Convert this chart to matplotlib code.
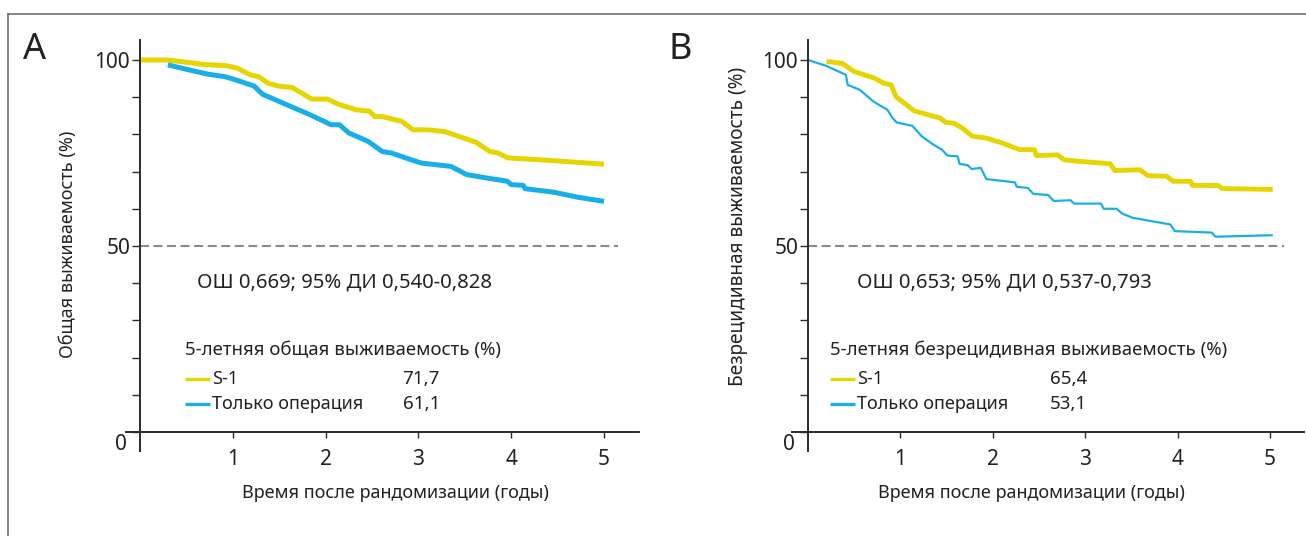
import numpy as np
import matplotlib.pyplot as plt

plt.rcParams['font.family'] = ['Noto Sans', 'DejaVu Sans']
plt.rcParams['font.weight'] = 'medium'

# ---- данные ----
# A: общая выживаемость
os_s1_t = [0.0, 0.13, 0.30, 0.50, 0.69, 0.92, 1.05, 1.19, 1.28, 1.38, 1.49, 1.64, 1.85, 2.02, 2.14,
           2.33, 2.47, 2.53, 2.61, 2.82, 2.94, 3.12, 3.29, 3.62, 3.77, 3.86, 3.96, 4.30, 5.0]
os_s1_v = [100, 100, 100, 99.4, 98.8, 98.5, 97.8, 96.0, 95.5, 93.75, 93.0, 92.6, 89.5, 89.5, 88.1,
           86.6, 86.25, 84.8, 84.8, 83.5, 81.25, 81.2, 80.7, 77.9, 75.4, 75.0, 73.7, 73.2, 72.0]
os_op_t = [0.30, 0.50, 0.73, 0.92, 1.05, 1.23, 1.32, 1.57, 1.83, 2.06, 2.15, 2.25, 2.46, 2.61, 2.71,
           2.86, 3.03, 3.35, 3.52, 3.73, 3.96, 4.0, 4.13, 4.15, 4.45, 4.72, 5.0]
os_op_v = [98.7, 97.5, 96.2, 95.5, 94.5, 93.0, 90.8, 88.1, 85.3, 82.6, 82.6, 80.4, 78.1, 75.4, 75.0,
           73.7, 72.3, 71.4, 69.2, 68.3, 67.4, 66.5, 66.3, 65.4, 64.5, 63.1, 62.0]

# B: безрецидивная выживаемость
dfs_s1_t = [0.20, 0.37, 0.50, 0.72, 0.82, 0.90, 0.95, 1.15, 1.43, 1.49, 1.58, 1.67, 1.78, 1.93, 2.10,
            2.29, 2.45, 2.47, 2.70, 2.77, 2.92, 3.27, 3.32, 3.59, 3.68, 3.88, 3.95, 4.14, 4.16, 4.44,
            4.48, 5.03]
dfs_s1_v = [99.6, 99.1, 96.9, 95.1, 93.75, 93.3, 90.2, 86.3, 84.4, 83.2, 83.0, 81.7, 79.5, 79.0, 77.7,
            75.9, 75.9, 74.3, 74.5, 73.2, 72.8, 72.1, 70.3, 70.5, 68.9, 68.75, 67.4, 67.4, 66.3, 66.25,
            65.45, 65.2]
dfs_op_t = [0.0, 0.20, 0.41, 0.43, 0.56, 0.71, 0.86, 0.91, 0.96, 1.13, 1.23, 1.36, 1.45, 1.51, 1.62,
            1.64, 1.73, 1.77, 1.87, 1.93, 2.24, 2.26, 2.38, 2.44, 2.60, 2.66, 2.84, 2.88, 3.17, 3.20,
            3.34, 3.40, 3.51, 3.92, 3.97, 4.37, 4.41, 5.03]
dfs_op_v = [100, 98.4, 96.0, 93.3, 92.0, 88.8, 86.6, 84.6, 83.2, 82.3, 79.5, 77.2, 75.9, 74.3, 74.1,
            72.1, 71.7, 70.7, 71.0, 68.0, 67.1, 65.9, 65.6, 64.0, 63.7, 62.1, 62.3, 61.4, 61.4, 60.0,
            60.0, 58.75, 57.6, 55.8, 54.0, 53.6, 52.5, 52.9]

year_ticks = [1, 2, 3, 4, 5]
hr_text = ['ОШ 0,669; 95% ДИ 0,540-0,828', 'ОШ 0,653; 95% ДИ 0,537-0,793']
legend_titles = ['5-летняя общая выживаемость (%)', '5-летняя безрецидивная выживаемость (%)']
group_names = ['S-1', 'Только операция']
five_year = [['71,7', '61,1'], ['65,4', '53,1']]
ylabels = ['Общая выживаемость (%)', 'Безрецидивная выживаемость (%)']
xlabel = 'Время после рандомизации (годы)'

YELLOW = '#e6d500'
BLUE = '#1aaee8'
TXT = '#222222'
AXC = '#2b2b2b'

W, H = 1306, 536
fig = plt.figure(figsize=(W / 100, H / 100), dpi=100)


def make_axes(x0, y0, xu, yu, left, right, top, bottom):
    # x0, y0 - пиксели начала координат; xu, yu - пикселей на единицу
    ax = fig.add_axes([left / W, (H - bottom) / H, (right - left) / W, (bottom - top) / H])
    ax.set_xlim((left - x0) / xu, (right - x0) / xu)
    ax.set_ylim((y0 - bottom) / yu, (y0 - top) / yu)
    ax.patch.set_alpha(0)
    for s in ['top', 'right']:
        ax.spines[s].set_visible(False)
    for s in ['left', 'bottom']:
        ax.spines[s].set_position(('data', 0))
        ax.spines[s].set_color(AXC)
        ax.spines[s].set_linewidth(1.4)
    ax.set_xticks(year_ticks)
    ax.set_xticklabels([str(t) for t in year_ticks])
    ax.set_yticks([0, 50, 100])
    ax.set_yticklabels(['', '50', '100'])
    ax.set_yticks(range(10, 100, 10), minor=True)
    ax.tick_params(axis='x', direction='out', length=4, width=1, pad=8, labelsize=15,
                   colors=AXC, labelcolor=TXT)
    ax.tick_params(axis='y', which='both', direction='out', length=6, width=1, pad=1,
                   labelsize=15, colors=AXC, labelcolor=TXT)
    ax.text(-0.14, -3.4, '0', ha='right', va='center', fontsize=15, color=TXT)
    return ax


axA = make_axes(140, 432, 92.8, 3.72, 126, 639, 40, 451)
axB = make_axes(808, 432, 92.4, 3.72, 792, 1304, 40, 451)

axA.plot(os_s1_t, os_s1_v, color=YELLOW, lw=3.6, solid_joinstyle='round', solid_capstyle='butt')
axA.plot(os_op_t, os_op_v, color=BLUE, lw=3.6, solid_joinstyle='round', solid_capstyle='butt')
axB.plot(dfs_s1_t, dfs_s1_v, color=YELLOW, lw=3.5, solid_joinstyle='round', solid_capstyle='butt')
axB.plot(dfs_op_t, dfs_op_v, color=BLUE, lw=1.6, solid_joinstyle='round', solid_capstyle='butt')

panels = [(axA, 0.61, 0.485, 0.48, 0.78, 2.83), (axB, 0.53, 0.24, 0.24, 0.53, 2.62)]
for i, (ax, hx, tx, lx, nx, vx) in enumerate(panels):
    ax.plot([0, 5.15], [50, 50], color='#8a8a8a', lw=1.5, linestyle=(0, (4.3, 2.2)))
    ax.text(hx, 40.3, hr_text[i], fontsize=14.6, color=TXT, va='center', ha='left')
    ax.text(tx, 22.0, legend_titles[i], fontsize=13.4, color=TXT, va='center', ha='left')
    for j, (c, yy) in enumerate([(YELLOW, 14.2), (BLUE, 7.5)]):
        ax.plot([lx, lx + 0.27], [yy, yy], color=c, lw=2.4, solid_capstyle='butt')
        ax.text(nx, yy, group_names[j], fontsize=13, color=TXT, va='center', ha='left')
        ax.text(vx, yy, five_year[i][j], fontsize=13.5, color=TXT, va='center', ha='left')

fig.text(23 / W, 1 - 59 / H, 'A', fontsize=26, color=TXT, va='baseline', ha='left')
fig.text(668 / W, 1 - 59 / H, 'B', fontsize=26, color=TXT, va='baseline', ha='left')
fig.text(68 / W, 1 - 244 / H, ylabels[0], rotation=90, fontsize=13, color=TXT, ha='center', va='center')
fig.text(738 / W, 1 - 226 / H, ylabels[1], rotation=90, fontsize=13.7, color=TXT, ha='center', va='center')
fig.text(395 / W, 1 - 493 / H, xlabel, fontsize=13, color=TXT, ha='center', va='center')
fig.text(1031 / W, 1 - 493 / H, xlabel, fontsize=13, color=TXT, ha='center', va='center')

# рамка сверху и слева
fig.add_artist(plt.Line2D([8 / W, 1], [1 - 14 / H, 1 - 14 / H], transform=fig.transFigure,
                          color='#707070', lw=1.2))
fig.add_artist(plt.Line2D([8 / W, 8 / W], [0, 1 - 14 / H], transform=fig.transFigure,
                          color='#707070', lw=1.2))

fig.savefig('out.png', dpi=100, facecolor='white')
